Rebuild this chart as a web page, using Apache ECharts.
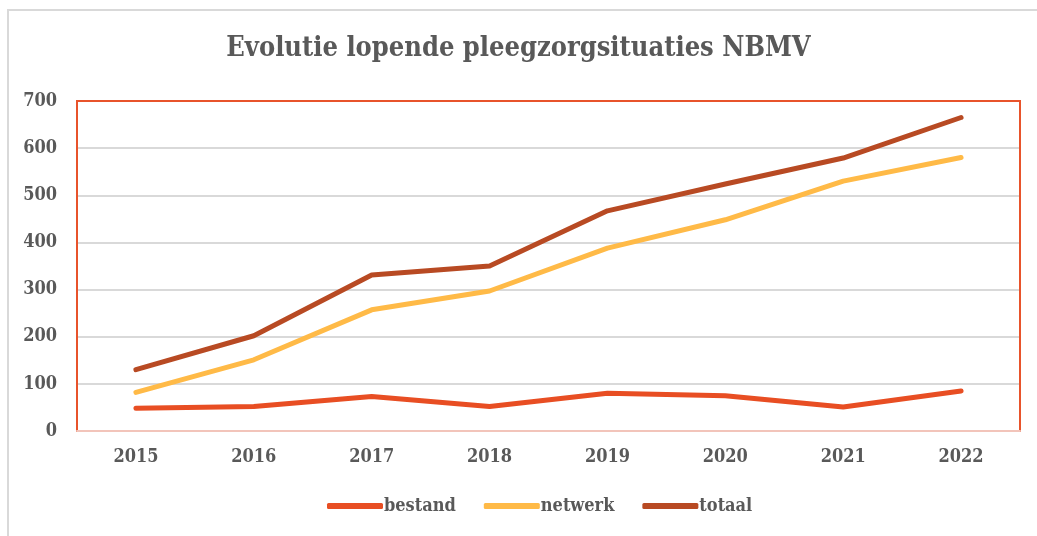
<!DOCTYPE html>
<html>
<head>
<meta charset="utf-8">
<script src="https://cdn.jsdelivr.net/npm/echarts@6/dist/echarts.min.js"></script>
<style>
html,body{margin:0;padding:0;background:#fff;}
#chart{width:1037px;height:536px;}
</style>
</head>
<body>
<div id="chart"></div>
<script>
const title = 'Evolutie lopende pleegzorgsituaties NBMV';
const years = ['2015','2016','2017','2018','2019','2020','2021','2022'];
const bestand = [48, 52, 73, 52, 80, 75, 51, 85];
const netwerk = [82, 151, 257, 297, 388, 448, 530, 580];
const totaal = [130, 202, 331, 350, 467, 524, 579, 665];
const yTicks = [0, 100, 200, 300, 400, 500, 600, 700];

const FONT = '"DejaVu Serif Condensed", "DejaVu Serif", serif';
const TXT = '#595959';
const G = {left: 77, right: 17, top: 101, bottom: 105};
const W = 1037, H = 536;

const chart = echarts.init(document.getElementById('chart'), null, {renderer: 'canvas'});
const mk = (name, data, color) => ({
  name, type: 'line', data, symbol: 'none', smooth: false, z: 3,
  lineStyle: {color, width: 5, cap: 'round', join: 'round'},
  itemStyle: {color}
});
chart.setOption({
  animation: false,
  backgroundColor: '#fff',
  title: {
    text: title, left: 'center', top: 30,
    textStyle: {fontFamily: FONT, fontWeight: 'bold', fontSize: 27, color: TXT}
  },
  graphic: [{
    type: 'rect', shape: {x: 8, y: 10, width: 1060, height: 560},
    style: {fill: 'none', stroke: '#d9d9d9', lineWidth: 2}, silent: true, z: -1
  }, {
    type: 'rect', z: 1,
    shape: {x: G.left, y: G.top, width: W - G.left - G.right, height: H - G.top - G.bottom},
    style: {fill: 'none', stroke: '#E8532B', lineWidth: 2}, silent: true
  }],
  grid: G,
  legend: {
    bottom: 16, left: 322, itemWidth: 56, itemHeight: 6, itemGap: 28,
    icon: 'roundRect',
    textStyle: {fontFamily: FONT, fontWeight: 'bold', fontSize: 18, color: TXT, padding: [0,0,0,-4]},
    data: ['bestand', 'netwerk', 'totaal']
  },
  xAxis: {
    type: 'category', data: years, boundaryGap: true, z: 5,
    axisLine: {show: true, lineStyle: {color: '#F2C4BA', width: 2}},
    axisTick: {show: false},
    axisLabel: {fontFamily: FONT, fontWeight: 'bold', fontSize: 18, color: TXT, margin: 17}
  },
  yAxis: {
    type: 'value', min: yTicks[0], max: yTicks[yTicks.length-1], interval: 100, z: 0,
    axisLine: {show: false}, axisTick: {show: false},
    splitLine: {lineStyle: {color: '#d9d9d9', width: 2}},
    axisLabel: {fontFamily: FONT, fontWeight: 'bold', fontSize: 18, color: TXT, margin: 20}
  },
  series: [
    mk('bestand', bestand, '#E84E23'),
    mk('netwerk', netwerk, '#FFBA47'),
    mk('totaal', totaal, '#B84A23')
  ]
});
</script>
</body>
</html>
